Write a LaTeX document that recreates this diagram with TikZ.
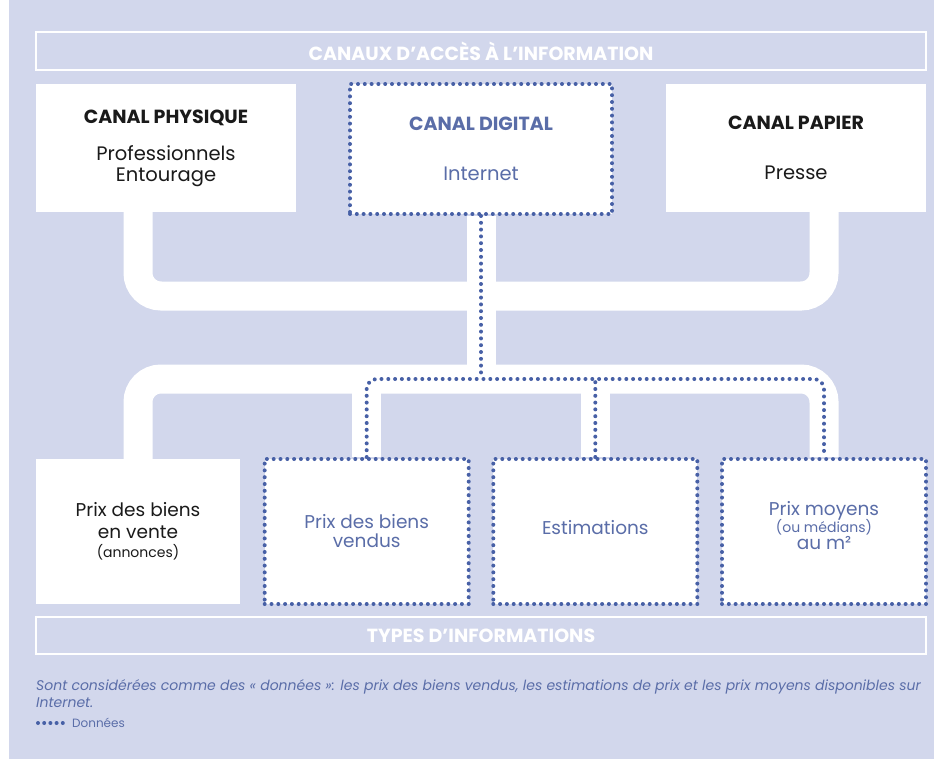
\documentclass[tikz,border=0pt]{standalone}
\usepackage{fontspec}
\setmainfont{Poppins}
\definecolor{bg}{HTML}{D2D7EC}
\definecolor{dotblue}{HTML}{4760A6}
\definecolor{txtblue}{HTML}{5A6DA8}
\definecolor{ink}{HTML}{1A1A1A}
\begin{document}
\begin{tikzpicture}[x=1pt,y=-1pt,
  topbox/.style={fill=white, minimum width=260pt, minimum height=128pt, inner sep=0pt, align=center, text=ink, font=\fontsize{19.5}{21}\selectfont},
  botbox/.style={fill=white, minimum width=204pt, minimum height=145pt, inner sep=0pt, align=center, text=ink, font=\fontsize{18.5}{22}\selectfont},
  dotline/.style={draw=dotblue, line width=4pt, line cap=round, dash pattern=on 0pt off 6.8pt},
  datbox/.style={dotline, text=txtblue},
  boxtext/.style={inner sep=0pt, align=center, text=txtblue, font=\fontsize{18.5}{22}\selectfont},
  band/.style={draw=white, line width=29pt},
  banner/.style={draw=white, line width=2pt, minimum width=890pt, minimum height=38pt, inner sep=0pt, text=white, font=\bfseries\fontsize{19}{22}\selectfont}]
\useasboundingbox (0,0) rectangle (936,759);
\fill[bg] (9,0) rectangle (934,759);

% banners
\node[banner] (canaux) at (481,51) {CANAUX D’ACCÈS À L’INFORMATION};
\node[banner, minimum height=37pt] (types) at (481,635.5) {TYPES D’INFORMATIONS};

% top row
\node[topbox] (phys) at (166,148) {{\bfseries\fontsize{19}{21}\selectfont CANAL PHYSIQUE}\\[16pt]Professionnels\\Entourage};
\node[topbox, datbox, minimum width=262pt, minimum height=130pt] (digital) at (481,149) {{\bfseries\fontsize{19}{21}\selectfont CANAL DIGITAL}\\[29pt]Internet};
\node[topbox] (papier) at (796,148) {{\bfseries\fontsize{19}{21}\selectfont CANAL PAPIER}\\[29pt]Presse};

% bottom row
\node[botbox] (vente) at (138,531.5) {Prix des biens\\en vente\\[-3pt]{\fontsize{14}{17}\selectfont(annonces)}};
\node[botbox, datbox] (vendus) at (366.7,531.5) {Prix des biens\\[-3pt]vendus};
\node[botbox, datbox] (estim) at (595.3,531.5) {};
\node[boxtext] (estimtxt) at (595.3,528) {Estimations};
\node[botbox, datbox] (moyens) at (824,531.5) {};
\node[boxtext] (moyenstxt) at (824,526) {Prix moyens\\[-5pt]{\fontsize{14}{17}\selectfont(ou médians)}\\[-5pt]au m²};

\coordinate (mid) at (481,296);
\coordinate (low) at (481,379);

% white bands
\draw[band, rounded corners=23pt] (phys.south -| vente.north) |- (mid) -| (papier.south -| moyens.north);
\draw[band] (digital.south) -- (low);
\draw[band, rounded corners=23pt] (vente.north) |- (low) -| (moyens.north);
\draw[band] (vendus.north) -- (vendus.north |- low);
\draw[band] (estim.north) -- (estim.north |- low);

% data dotted lines
\draw[dotline] (digital.south) -- (low);
\draw[dotline, rounded corners=10pt] (vendus.north) |- (low) -| (moyens.north);
\draw[dotline] (estim.north) -- (estim.north |- low);

% footnote
\node[anchor=north west, align=left, inner sep=0pt, text=txtblue, font=\itshape\fontsize{14}{17.5}\selectfont] (note) at (36,679)
  {Sont considérées comme des « données »: les prix des biens vendus, les estimations de prix et les prix moyens disponibles sur\\Internet.};

% legend
\coordinate (k1) at (38,723);
\coordinate (k2) at (63,723);
\draw[dotline, line width=4pt, dash pattern=on 0pt off 6.2pt] (k1) -- (k2);
\node[anchor=west, inner sep=0pt, text=txtblue, font=\fontsize{12}{14}\selectfont] (leg) at (72,723) {Données};
\end{tikzpicture}
\end{document}
